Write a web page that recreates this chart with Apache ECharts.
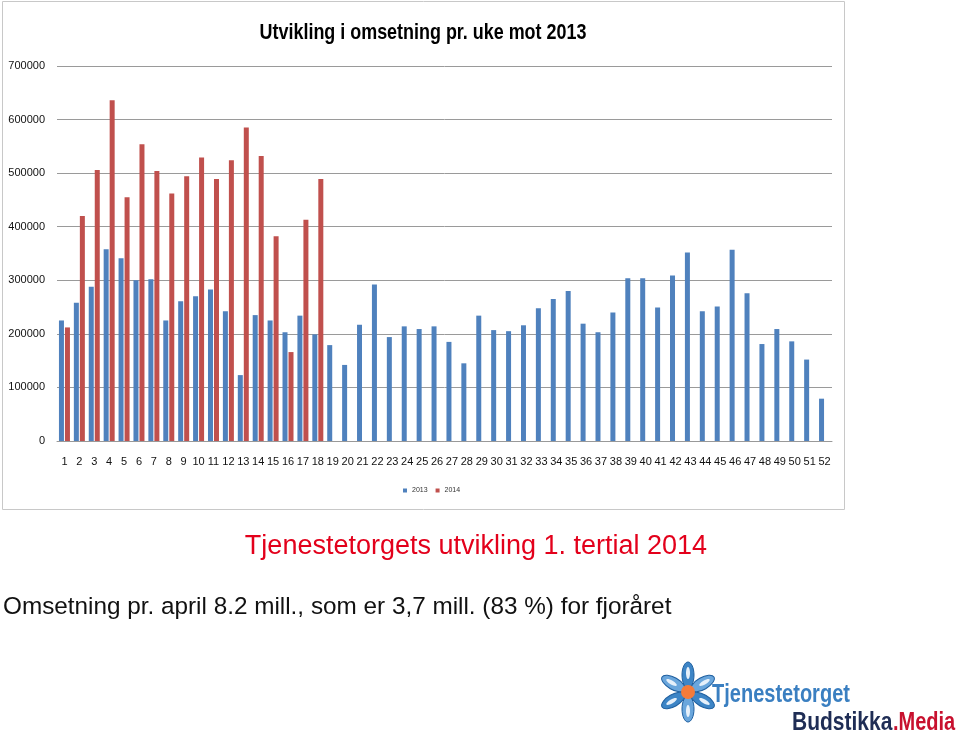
<!DOCTYPE html>
<html><head><meta charset="utf-8">
<script src="https://cdn.jsdelivr.net/npm/echarts@6/dist/echarts.min.js"></script>
<style>html,body{margin:0;padding:0;background:#fff}#c{width:960px;height:735px}</style>
</head><body><div id="c"></div>
<script>
const weeks = ['1','2','3','4','5','6','7','8','9','10','11','12','13','14','15','16','17','18','19','20','21','22','23','24','25','26','27','28','29','30','31','32','33','34','35','36','37','38','39','40','41','42','43','44','45','46','47','48','49','50','51','52'];
const sales2013 = [225000,258000,288000,358000,341000,300000,302000,225000,261000,270000,283000,242000,123000,235000,225000,203000,234000,199000,179000,142000,217000,292000,194000,214000,209000,214000,185000,145000,234000,207000,205000,216000,248000,265000,280000,219000,203000,240000,304000,304000,249000,309000,352000,242000,251000,357000,276000,181000,209000,186000,152000,79000];
const sales2014 = [212000,420000,506000,636000,455000,554000,504000,462000,494000,529000,489000,524000,585000,532000,382000,166000,413000,489000,null,null,null,null,null,null,null,null,null,null,null,null,null,null,null,null,null,null,null,null,null,null,null,null,null,null,null,null,null,null,null,null,null,null];
const seriesNames = ['2013','2014'];
const yTicks = {min:0, max:700000, interval:100000};

const chart = echarts.init(document.getElementById('c'), null, {renderer:'canvas'});
const sans = '"Liberation Sans", Arial, sans-serif';

const petals = [];
for (let i = 0; i < 6; i++) {
  petals.push({
    type:'ellipse', x:688, y:692, rotation: i*Math.PI/3,
    shape:{cx:0, cy:-17, rx:6, ry:13},
    style:{fill: i%2 ? '#6aa6dc' : '#3d85c6', stroke:'#1f5f9f', lineWidth:1}
  });
  petals.push({
    type:'ellipse', x:688, y:692, rotation: i*Math.PI/3,
    shape:{cx:0, cy:-19, rx:2, ry:6},
    style:{fill:'#e6f0fa'}
  });
}

chart.setOption({
  animation:false,
  legend:{data:seriesNames, left:403, top:487, itemWidth:4, itemHeight:4, itemGap:8,
    textStyle:{fontSize:7, color:'#333', fontFamily:sans}, icon:'rect', padding:0},
  grid:{left:57, right:128, top:66, bottom:294},
  xAxis:{type:'category', data:weeks, axisTick:{show:false},
    axisLine:{lineStyle:{color:'#999'}},
    axisLabel:{interval:0, color:'#111', fontFamily:sans, fontSize:11, margin:15}},
  yAxis:{type:'value', min:yTicks.min, max:yTicks.max, interval:yTicks.interval,
    axisLine:{show:false}, axisTick:{show:false},
    splitLine:{lineStyle:{color:'#9a9a9a'}},
    axisLabel:{color:'#111', fontFamily:sans, fontSize:11, margin:12, formatter: v => String(v)}},
  series:[
    {name:seriesNames[0], type:'bar', data:sales2013, barWidth:5, barGap:'20%', itemStyle:{color:'#4f81bd'}},
    {name:seriesNames[1], type:'bar', data:sales2014, barWidth:5, itemStyle:{color:'#c0504d'}}
  ],
  graphic:[
    {type:'rect', shape:{x:2.5, y:1.5, width:842, height:508}, style:{fill:'none', stroke:'#c8c8c8', lineWidth:1}, z:-1},
    {type:'text', x:423, y:33, scaleX:0.815, style:{text:'Utvikling i omsetning pr. uke mot 2013', fill:'#000',
      font:'bold 22px ' + sans, textAlign:'center', textVerticalAlign:'middle'}},
    {type:'text', x:476, y:547, style:{text:'Tjenestetorgets utvikling 1. tertial 2014', fill:'#e3001b',
      font:'27px ' + sans, textAlign:'center', textVerticalAlign:'middle'}},
    {type:'text', x:3, y:607, style:{text:'Omsetning pr. april 8.2 mill., som er 3,7 mill. (83 %) for fjoråret', fill:'#111',
      font:'24.3px ' + sans, textAlign:'left', textVerticalAlign:'middle'}},
    ...petals,
    {type:'circle', shape:{cx:688, cy:692, r:7}, style:{fill:'#f47b3a'}},
    {type:'text', x:712, y:695, scaleX:0.77, style:{text:'Tjenestetorget', fill:'#3a7fc1',
      font:'bold 26px ' + sans, textAlign:'left', textVerticalAlign:'middle'}},
    {type:'text', x:792, y:723, scaleX:0.84, style:{text:'Budstikka', fill:'#1f2d55',
      font:'bold 25px ' + sans, textAlign:'left', textVerticalAlign:'middle'}},
    {type:'text', x:893, y:723, scaleX:0.8, style:{text:'.Media', fill:'#c8102e',
      font:'bold 25px ' + sans, textAlign:'left', textVerticalAlign:'middle'}}
  ]
});
</script></body></html>
